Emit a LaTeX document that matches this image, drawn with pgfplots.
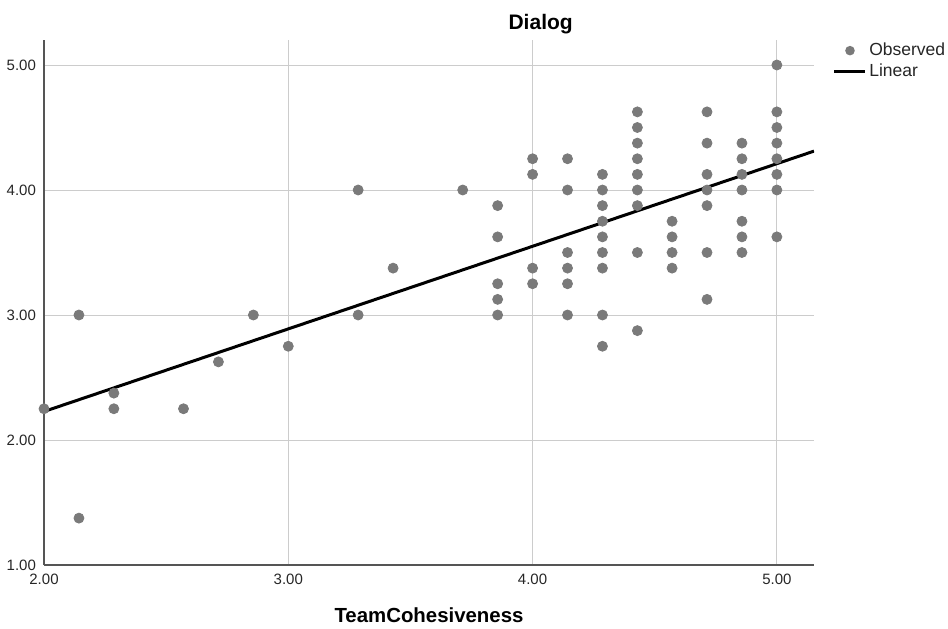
\documentclass[border=0pt]{standalone}
\usepackage{pgfplots}
\pgfplotsset{compat=1.18}
\usepackage{fontspec}
\setmainfont{Liberation Sans}
\definecolor{markgray}{RGB}{122,122,122}
\definecolor{gridgray}{RGB}{204,204,204}
\definecolor{axisgray}{RGB}{85,85,85}
\begin{document}
\begin{tikzpicture}
\useasboundingbox (-22pt,-31.5pt) rectangle (452pt,282.5pt);
\begin{axis}[
  scale only axis,
  width=385pt, height=262.5pt,
  xmin=2, xmax=5.152, ymin=1, ymax=5.2,
  axis x line*=bottom, axis y line*=left,
  axis line style={axisgray, line width=0.75pt, -},
  xtick={2,3,4,5}, ytick={1,2,3,4,5},
  major tick length=0pt,
  grid=major,
  major grid style={gridgray, line width=0.5pt},
  /pgf/number format/assume math mode=true,
  /pgf/number format/.cd, fixed, fixed zerofill, precision=2, /pgfplots/.cd,
  tick label style={font=\fontsize{7.5}{9}\selectfont, text=black!85},
  xticklabel style={yshift=-1pt},
  yticklabel style={xshift=-0.5pt},
  title={Dialog},
  title style={at={(0.645,1.007)}, anchor=center, font=\bfseries\fontsize{10.5}{12}\selectfont},
  xlabel={TeamCohesiveness},
  xlabel style={at={(axis description cs:0.5,-0.095)}, anchor=center, font=\bfseries\fontsize{10.2}{12}\selectfont},
  legend style={at={(1.024,1.0)}, anchor=north west, draw=none, fill=none,
    font=\fontsize{8.75}{10.5}\selectfont, inner sep=0pt,
    nodes={inner sep=1.2pt, text=black!85}, row sep=0.4pt},
  legend cell align=left,
]
\addplot[only marks, mark=*, mark size=2.5pt, markgray, mark options={draw=markgray, fill=markgray},
  legend image code/.code={\path[draw=none,fill=none] (0pt,0pt) -- (15.5pt,0pt); \fill[markgray, draw=none] (7.8pt,0pt) circle (2.4pt);}]
coordinates {
(2.000,2.250)
(2.143,3.000) (2.143,1.375)
(2.286,2.375) (2.286,2.250)
(2.571,2.250)
(2.714,2.625)
(2.857,3.000)
(3.000,2.750)
(3.286,4.000) (3.286,3.000)
(3.429,3.375)
(3.714,4.000)
(3.857,3.875) (3.857,3.625) (3.857,3.250) (3.857,3.125) (3.857,3.000)
(4.000,4.250) (4.000,4.125) (4.000,3.375) (4.000,3.250)
(4.143,4.250) (4.143,4.000) (4.143,3.500) (4.143,3.375) (4.143,3.250) (4.143,3.000)
(4.286,4.125) (4.286,4.000) (4.286,3.875) (4.286,3.750) (4.286,3.625) (4.286,3.500) (4.286,3.375) (4.286,3.000) (4.286,2.750)
(4.429,4.625) (4.429,4.500) (4.429,4.375) (4.429,4.250) (4.429,4.125) (4.429,4.000) (4.429,3.875) (4.429,3.500) (4.429,2.875)
(4.571,3.750) (4.571,3.625) (4.571,3.500) (4.571,3.375)
(4.714,4.625) (4.714,4.375) (4.714,4.125) (4.714,4.000) (4.714,3.875) (4.714,3.500) (4.714,3.125)
(4.857,4.375) (4.857,4.250) (4.857,4.125) (4.857,4.000) (4.857,3.750) (4.857,3.625) (4.857,3.500)
(5.000,5.000) (5.000,4.625) (5.000,4.500) (5.000,4.375) (5.000,4.250) (5.000,4.125) (5.000,4.000) (5.000,3.625)
};
\addlegendentry{Observed}
\addplot[black, line width=1.5pt, no marks,
  legend image code/.code={\draw[black, line width=1.5pt] (0pt,0pt) -- (15.5pt,0pt);}]
coordinates {(2.0,2.228) (5.152,4.311)};
\addlegendentry{Linear}
\end{axis}
\end{tikzpicture}
\end{document}
